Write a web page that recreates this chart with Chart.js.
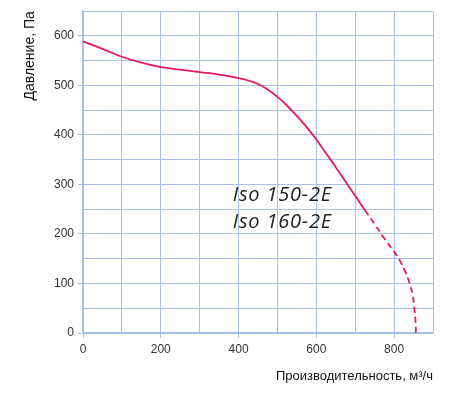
<!DOCTYPE html>
<html>
<head>
<meta charset="utf-8">
<script src="https://cdn.jsdelivr.net/npm/chart.js@4"></script>
<style>
  html, body { margin: 0; padding: 0; background: #fff; }
  #wrap { width: 450px; height: 404px; }
</style>
</head>
<body>
<div id="wrap"><canvas id="fanChart"></canvas></div>
<script>
// airflow, m3/h and pressure, Pa
const flowValues = [0, 50, 100, 150, 200, 250, 300, 350, 400, 425, 450, 475, 500, 525, 550, 575, 600, 625, 650, 675, 700, 725, 750, 775, 800, 815, 828, 840, 848, 852, 855, 856];
const pressureValues = [589, 574, 558, 546, 537, 532, 527, 522, 515, 510, 503, 492, 477, 459, 438, 416, 391, 363, 335, 306, 277, 248, 220, 191, 164, 146, 125, 100, 75, 50, 25, 0];
const dashedFrom = 725;
const modelLabels = ['Iso 150-2E', 'Iso 160-2E'];

const gridColor = '#a9c1e9';
const lineColor = '#e6195b';

const points = flowValues.map((x, i) => ({ x: x, y: pressureValues[i] }));

// draws the model names inside the plot
const modelText = {
    id: 'modelText',
    afterDatasetsDraw(chart) {
        const ctx = chart.ctx;
        const xs = chart.scales.x, ys = chart.scales.y;
        ctx.save();
        ctx.font = 'italic 20px "Open Sans", sans-serif';
        ctx.letterSpacing = '0.8px';
        ctx.fillStyle = '#222';
        ctx.textBaseline = 'middle';
        modelLabels.forEach((t, i) => {
            ctx.fillText(t, xs.getPixelForValue(385), ys.getPixelForValue(278 - i * 55));
        });
        ctx.restore();
    }
};

new Chart(document.getElementById('fanChart').getContext('2d'), {
    type: 'line',
    data: {
        datasets: [{
            data: points,
            borderColor: lineColor,
            borderWidth: 1.8,
            pointRadius: 0,
            fill: false,
            tension: 0.4,
            segment: {
                borderDash: c => c.p0.parsed.x >= dashedFrom ? [6, 4] : undefined
            }
        }]
    },
    options: {
        responsive: true,
        maintainAspectRatio: false,
        animation: false,
        layout: { padding: { top: 8, right: 17, left: 18, bottom: 16 } },
        plugins: { legend: { display: false }, tooltip: { enabled: false } },
        scales: {
            x: {
                type: 'linear',
                min: 0,
                max: 900,
                afterFit: s => { s.height = 55; },
                ticks: {
                    stepSize: 100,
                    autoSkip: false,
                    maxRotation: 0,
                    color: '#333',
                    font: { family: 'Liberation Sans, Arial', size: 12 },
                    padding: 4,
                    callback: v => v % 200 === 0 ? v : ''
                },
                grid: {
                    color: gridColor,
                    lineWidth: 1,
                    tickLength: 5,
                    tickColor: c => c.tick && c.tick.value % 200 === 0 ? gridColor : 'rgba(0,0,0,0)'
                },
                border: { color: gridColor, width: 1.5 },
                title: {
                    display: true,
                    text: 'Производительность, м³/ч',
                    align: 'end',
                    color: '#111',
                    font: { family: 'Liberation Sans, Arial', size: 13 },
                    padding: { top: 10 }
                }
            },
            y: {
                min: 0,
                max: 650,
                afterFit: s => { s.width = 65; },
                ticks: {
                    stepSize: 50,
                    autoSkip: false,
                    color: '#333',
                    font: { family: 'Liberation Sans, Arial', size: 12 },
                    padding: 4,
                    callback: v => (v % 100 === 0 && v <= 600) ? v : ''
                },
                grid: {
                    color: gridColor,
                    lineWidth: 1,
                    tickLength: 5,
                    tickColor: c => c.tick && c.tick.value % 100 === 0 && c.tick.value <= 600 ? gridColor : 'rgba(0,0,0,0)'
                },
                border: { color: gridColor, width: 1.5 },
                title: {
                    display: true,
                    text: 'Давление, Па',
                    align: 'end',
                    color: '#111',
                    font: { family: 'Liberation Sans, Arial', size: 14 },
                    padding: { bottom: 0 }
                }
            }
        }
    },
    plugins: [modelText]
});
</script>
</body>
</html>
